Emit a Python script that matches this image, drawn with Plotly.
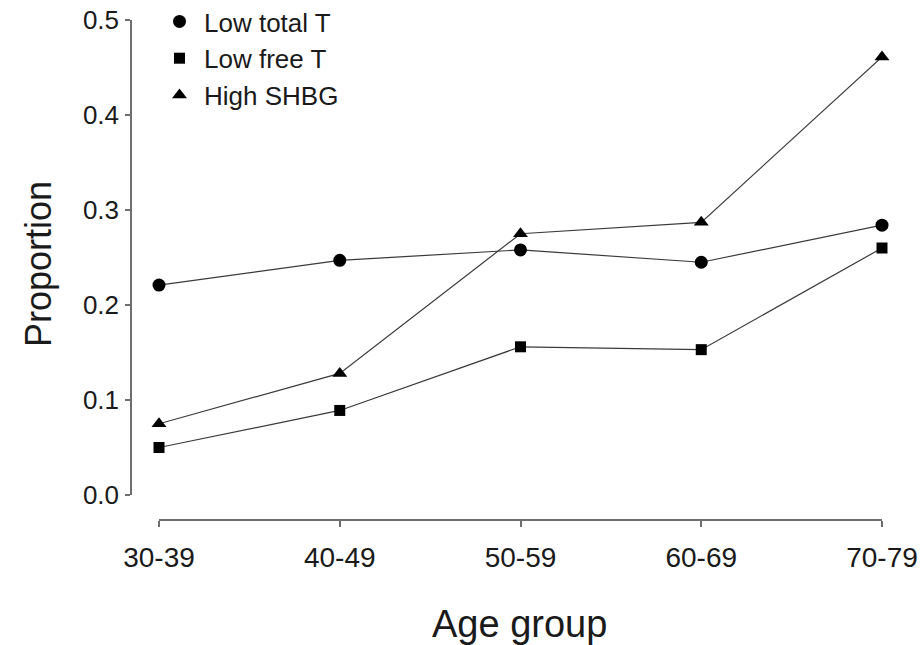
import plotly.graph_objects as go

# Age groups on the x axis
age_groups = ["30-39", "40-49", "50-59", "60-69", "70-79"]

# Proportion of men in each age group
low_total_t = [0.221, 0.247, 0.258, 0.245, 0.284]
low_free_t = [0.050, 0.089, 0.156, 0.153, 0.260]
high_shbg = [0.075, 0.128, 0.275, 0.287, 0.461]

y_ticks = [0.0, 0.1, 0.2, 0.3, 0.4, 0.5]
y_tick_text = ["0.0", "0.1", "0.2", "0.3", "0.4", "0.5"]

W, H = 924, 645
FONT = "Liberation Sans, Arial, Helvetica, sans-serif"
INK = "#1a1a1a"
AXIS = "#6e6e6e"

series = [
    ("Low total T", low_total_t, "circle", 13),
    ("Low free T", low_free_t, "square", 11),
    ("High SHBG", high_shbg, "triangle-up", 13),
]

fig = go.Figure()

for name, vals, sym, size in series:
    fig.add_trace(go.Scatter(
        x=age_groups, y=vals, mode="lines+markers", name=name,
        line=dict(color="#3a3a3a", width=1.2),
        marker=dict(symbol=sym, size=size, color="black"),
        cliponaxis=False, showlegend=False,
    ))

# Marker-only entries for the key
for name, vals, sym, size in series:
    fig.add_trace(go.Scatter(
        x=[None], y=[None], mode="markers", name=name,
        marker=dict(symbol=sym, size=size, color="black"),
        showlegend=True,
    ))

fig.update_layout(
    width=W, height=H,
    margin=dict(l=0, r=0, t=0, b=0, autoexpand=False),
    paper_bgcolor="white", plot_bgcolor="white",
    font=dict(family=FONT, color=INK),
    xaxis=dict(
        type="category", categoryorder="array", categoryarray=age_groups,
        range=[0, 4], domain=[159 / W, 882 / W],
        anchor="free", position=(H - 520) / H, automargin=False,
        showline=True, linecolor=AXIS, linewidth=1.5,
        ticks="outside", ticklen=6, tickcolor=AXIS, tickwidth=1.5,
        tickfont=dict(size=28, color=INK, family=FONT),
        ticklabelstandoff=7,
        showgrid=False, zeroline=False, fixedrange=True,
    ),
    yaxis=dict(
        range=[0, 0.5], domain=[(H - 495) / H, (H - 20) / H],
        anchor="free", position=131 / W, automargin=False,
        tickvals=y_ticks, ticktext=y_tick_text,
        showline=True, linecolor=AXIS, linewidth=1.5,
        ticks="outside", ticklen=5, tickcolor=AXIS, tickwidth=1.5,
        tickfont=dict(size=26, color=INK, family=FONT),
        ticklabelstandoff=1,
        showgrid=False, zeroline=False, fixedrange=True,
    ),
    legend=dict(
        x=155 / W, y=1 + 2 / H, xanchor="left", yanchor="top",
        font=dict(size=26, color=INK, family=FONT),
        bgcolor="rgba(0,0,0,0)", itemwidth=39, tracegroupgap=0,
    ),
    annotations=[
        dict(text="Age group", x=519 / W, y=(H - 624) / H, xref="paper", yref="paper",
             showarrow=False, font=dict(size=38, color=INK, family=FONT),
             xanchor="center", yanchor="middle"),
        dict(text="Proportion", x=38 / W, y=(H - 264) / H, xref="paper", yref="paper",
             showarrow=False, textangle=-90, font=dict(size=36, color=INK, family=FONT),
             xanchor="center", yanchor="middle"),
    ],
)

fig.write_html("out.html")
